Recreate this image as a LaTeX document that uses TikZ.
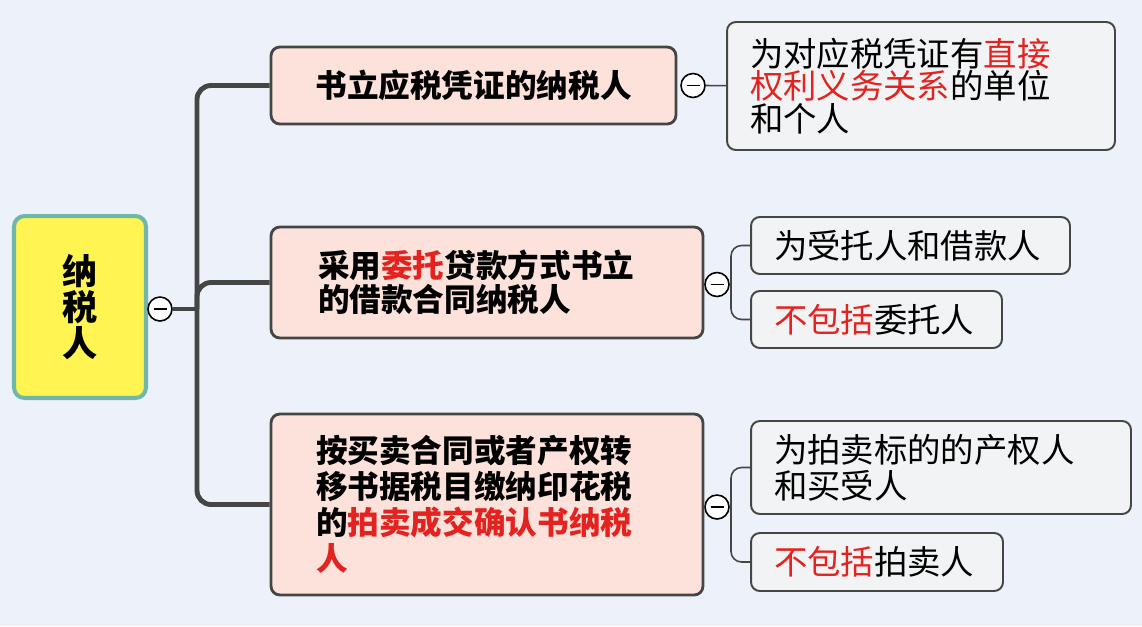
\documentclass[tikz,border=0pt]{standalone}
\usepackage{fontspec}
\setmainfont{Noto Sans CJK SC}
\usepackage{tikz}
\usetikzlibrary{positioning}
\definecolor{bgblue}{HTML}{EDF1FA}
\definecolor{pinkfill}{HTML}{FDE2DB}
\definecolor{greyfill}{HTML}{F1F3F4}
\definecolor{linegrey}{HTML}{454545}
\definecolor{rootyellow}{HTML}{FFF452}
\definecolor{rootteal}{HTML}{6FB7A8}
\definecolor{hlred}{HTML}{E2231F}
\newcommand{\redtxt}[1]{\textcolor{hlred}{#1}}
\tikzstyle{rootbox} = [rectangle, draw=rootteal, line width=2.3pt, fill=rootyellow,
    rounded corners=6pt, align=center, minimum width=2.64cm, minimum height=3.64cm,
    font=\bfseries\fontsize{20}{20.5}\selectfont]
\tikzstyle{topic} = [rectangle, draw=linegrey, line width=1.6pt, fill=pinkfill,
    rounded corners=5pt, align=left, font=\bfseries\fontsize{18}{19.5}\selectfont]
\tikzstyle{leaf} = [rectangle, draw=linegrey, line width=1.1pt, fill=greyfill,
    rounded corners=5pt, align=left, inner xsep=0.46cm, inner ysep=0pt,
    font=\fontsize{19}{16.8}\selectfont]
\tikzstyle{fold} = [circle, draw=black, line width=0.9pt, fill=white,
    minimum size=0.48cm, inner sep=0pt,
    path picture={\draw[line width=1pt] ([xshift=-0.13cm]path picture bounding box.center)
      -- ([xshift=0.13cm]path picture bounding box.center);}]

\begin{document}
\begin{tikzpicture}[x=0.02cm,y=-0.02cm,
                    trunk/.style={draw=linegrey, line width=2.8pt, rounded corners=8pt},
                    twig/.style={draw=linegrey, line width=0.9pt, rounded corners=6pt}]
  \fill[bgblue] (0,0) rectangle (1142,626);

  \node[rootbox] (root) at (80,307) {纳\\税\\人};
  \node[fold] (c0) at (160,309) {};

  \node[topic, minimum width=8.1cm, minimum height=1.54cm, align=center] (t1) at (473.5,85.5)
       {书立应税凭证的纳税人};
  \node[topic, inner xsep=0.94cm, text width=6.76cm, minimum height=2.22cm] (t2) at (487,282.5)
       {采用\redtxt{委托}贷款方式书立\\的借款合同纳税人};
  \node[topic, inner xsep=0.9cm, text width=6.84cm, minimum height=3.62cm,
        font=\bfseries\fontsize{18}{20.4}\selectfont] (t3) at (487,504.5)
       {按买卖合同或者产权转\\移书据税目缴纳印花税\\的\redtxt{拍卖成交确认书纳税}\\\redtxt{人}};

  \node[fold] (c1) at (693,85.5) {};
  \node[fold] (c2) at (717,284.5) {};
  \node[fold] (c3) at (717,507) {};

  \node[leaf, text width=6.84cm, minimum height=2.56cm] (r1) at (921,86)
       {为对应税凭证有\redtxt{直接}\\\redtxt{权利义务关系}的单位\\和个人};
  \node[leaf, text width=5.46cm, minimum height=1.14cm] (r2a) at (910.5,245.5) {为受托人和借款人};
  \node[leaf, text width=4.1cm, minimum height=1.14cm] (r2b) at (876.5,319.5) {\redtxt{不包括}委托人};
  \node[leaf, text width=6.68cm, minimum height=1.86cm,
        font=\fontsize{19}{20.5}\selectfont] (r3a) at (941,467.5)
       {为拍卖标的的产权人\\和买受人};
  \node[leaf, text width=4.12cm, minimum height=1.16cm] (r3b) at (877,562) {\redtxt{不包括}拍卖人};

  \coordinate (hub) at (197,309);
  \coordinate (j2) at (731,284.5);
  \coordinate (j3) at (731,507);

  \draw[trunk] (t1.west) -| (hub) |- (t3.west);
  \draw[trunk] (hub) |- (t2.west);
  \draw[trunk] (c0) -- (hub);

  \draw[twig] (c1) -- (r1);
  \draw[twig] (c2) -- (j2);
  \draw[twig] (r2a.west) -| (j2) |- (r2b.west);
  \draw[twig] (c3) -- (j3);
  \draw[twig] (r3a.west) -| (j3) |- (r3b.west);
\end{tikzpicture}
\end{document}
